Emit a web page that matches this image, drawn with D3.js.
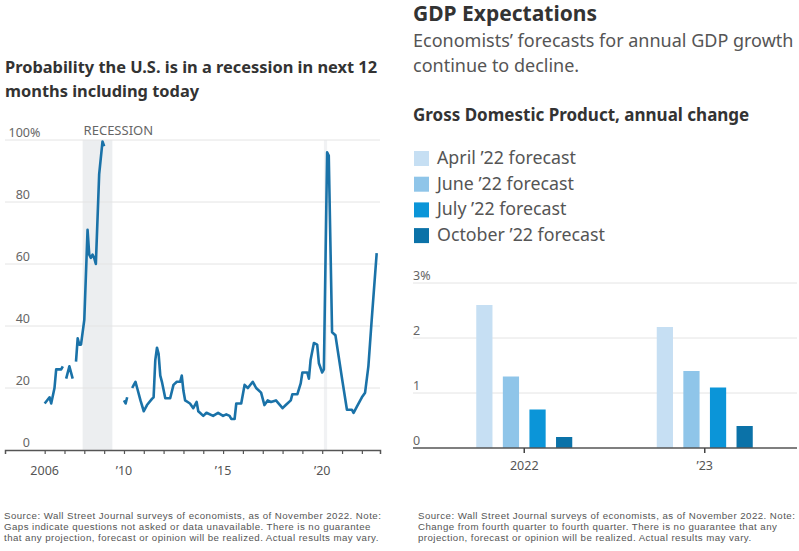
<!DOCTYPE html>
<html>
<head>
<meta charset="utf-8">
<script src="https://cdn.jsdelivr.net/npm/d3@7"></script>
<style>
  body { margin: 0; background: #fff; }
  svg text { font-family: "Noto Sans", sans-serif; }
  svg text.note { font-family: "Liberation Sans", sans-serif; letter-spacing: 0.45px; }
</style>
</head>
<body>
<div id="chart"></div>
<script>
// --- left panel: recession probability, monthly survey (null = gap) ---
var months = ["2006-01","2006-04","2006-05","2006-07","2006-08","2006-11","2006-12","2007-01",
  "2007-02","2007-04","2007-06","2007-07",
  "2007-08","2007-09","2007-10","2007-11","2008-01","2008-03","2008-04","2008-05","2008-06","2008-07",
  "2008-08","2008-10","2008-12","2009-01","2009-06",
  "2010-01","2010-02","2010-03","2010-04",
  "2010-06","2010-07","2010-08","2010-09","2010-11","2011-01","2011-03","2011-06","2011-07","2011-08",
  "2011-09","2011-10","2011-11","2011-12","2012-02","2012-05","2012-07","2012-09","2012-11","2012-12",
  "2013-01","2013-02","2013-05","2013-07","2013-09","2013-10","2013-11","2014-01","2014-03","2014-07",
  "2014-10","2015-01","2015-03","2015-05","2015-06","2015-08","2015-09","2015-12","2016-02","2016-04",
  "2016-07","2016-09","2016-12","2017-02","2017-04","2017-06","2017-09","2018-01","2018-03","2018-06",
  "2018-07","2018-10","2018-12","2019-01","2019-04","2019-05","2019-06","2019-08","2019-10","2019-11",
  "2020-01","2020-02","2020-04","2020-05","2020-07","2020-09","2020-11","2021-01","2021-04","2021-07",
  "2021-08","2021-10","2022-01","2022-03","2022-05","2022-07","2022-10"];
var probability = [15,17,15,20,26,26,27,null,
  23,27,23,null,
  28.5,36,34,34,42,71,63,62,63,62,
  60,89,99.5,98,null,
  16,15,17,null,
  20,21,22,20,16,12.5,14.5,16.5,17,29,
  33,31,24,22,16.7,16.7,21,22,22,24,
  19,16,15,13.5,15.5,12.5,12,11,12,11,
  12,11,11.5,11,10,10,15,15,21,20,
  22,20,18.5,14.5,16,15.5,16,13.5,14.5,16,
  18,18,21.5,25,25,23,29,34.5,34,28,
  25,26,96,95,38,37,30,23,13,13,
  12,14,17,18.5,27,42,63.5];
var recessions = [["2007-12","2009-06"],["2020-02","2020-04"]];
var probTicks = [0,20,40,60,80,100];
var yearTicks = d3.range(2006, 2023);
var yearLabels = {2006:"2006", 2010:"’10", 2015:"’15", 2020:"’20"};

// --- right panel: GDP forecasts ---
var gdpYears = ["2022","’23"];
var forecasts = ["April ’22 forecast","June ’22 forecast","July ’22 forecast","October ’22 forecast"];
var gdp2022 = [2.6, 1.3, 0.7, 0.2];
var gdp2023 = [2.2, 1.4, 1.1, 0.4];
var gdpTicks = [0,1,2,3];
var blues = ["#c6dff3","#8fc5e9","#0b95d8","#0b72a8"];

var parseMonth = d3.timeParse("%Y-%m");
var lineData = months.map(function(m,i){ return {date: parseMonth(m), v: probability[i]}; });
var gdpData = gdpYears.map(function(y,i){
  var vals = i==0 ? gdp2022 : gdp2023;
  return {year: y, values: forecasts.map(function(f,j){ return {key: f, v: vals[j]}; })};
});

var svg = d3.select("#chart").append("svg").attr("width", 799).attr("height", 551);

// footnotes: one line per text
function note(xPos, lines){
  svg.selectAll(null).data(lines).enter().append("text").attr("class","note")
    .attr("x",xPos).attr("y",(d,i)=>519+i*11)
    .style("font-size","9.7px").attr("fill","#555").text(d=>d);
}

// ================= left chart =================
var x = d3.scaleTime().domain([new Date(2004,0,1), new Date(2022,11,1)]).range([5, 380]);
var y = d3.scaleLinear().domain([0,100]).range([450, 140]);

svg.append("text").attr("x",5).attr("y",73).style("font-size","16.4px").style("font-weight","bold").attr("fill","#333")
  .text("Probability the U.S. is in a recession in next 12");
svg.append("text").attr("x",5).attr("y",97).style("font-size","16.4px").style("font-weight","bold").attr("fill","#333")
  .text("months including today");

svg.selectAll(".rec").data(recessions).enter().append("rect").attr("class","rec")
  .attr("x", d=>x(parseMonth(d[0])))
  .attr("width", d=>x(parseMonth(d[1]))-x(parseMonth(d[0])))
  .attr("y", 140).attr("height", 450-140)
  .attr("fill",(d,i)=>i==0 ? "#eceef0" : "#f1f2f4");

svg.append("text").attr("x", x(parseMonth(recessions[0][0]))+1).attr("y",135)
  .style("font-size","13px").attr("fill","#666").text("RECESSION");

svg.selectAll(".pgrid").data(probTicks.slice(1)).enter().append("line").attr("class","pgrid")
  .attr("x1",5).attr("x2",380).attr("y1",d=>y(d)).attr("y2",d=>y(d))
  .attr("stroke","#e4e4e4").attr("stroke-width",1);

svg.selectAll(".plab").data(probTicks).enter().append("text").attr("class","plab")
  .attr("x",30).attr("y",d=>y(d)-3).attr("text-anchor","end")
  .style("font-size","12.5px").attr("fill","#666").text(d=>d);
svg.append("text").attr("x",30).attr("y",y(100)-3).style("font-size","12.5px").attr("fill","#666").text("%");

var line = d3.line().defined(d=>d.v!=null).x(d=>x(d.date)).y(d=>y(d.v)).curve(d3.curveLinear);
svg.append("path").datum(lineData).attr("d", line)
  .attr("fill","none").attr("stroke","#1a72a8").attr("stroke-width",2.6).attr("stroke-linejoin","round");

var xAxis = d3.axisBottom(x).tickValues(yearTicks.map(yr=>new Date(yr,0,1))).tickSize(4).tickFormat("");
var gx = svg.append("g").attr("transform","translate(0,450)").call(xAxis);
gx.select(".domain").attr("stroke","#555").attr("stroke-width",1.5);
gx.selectAll(".tick line").attr("stroke","#555").attr("stroke-width",1.2);

svg.selectAll(".ylab").data(Object.keys(yearLabels)).enter().append("text").attr("class","ylab")
  .attr("x", d=>x(new Date(+d,0,1))).attr("y",475).attr("text-anchor","middle")
  .style("font-size","12.5px").attr("fill","#555").text(d=>yearLabels[d]);

note(4, ["Source: Wall Street Journal surveys of economists, as of November 2022. Note:",
  "Gaps indicate questions not asked or data unavailable. There is no guarantee",
  "that any projection, forecast or opinion will be realized. Actual results may vary."]);

// ================= right chart =================
var x0 = d3.scaleBand().domain(gdpYears).range([434, 795]);
var x1 = d3.scaleBand().domain(forecasts).range([-48, 48]).paddingInner(0.39);
var yg = d3.scaleLinear().domain([0,3]).range([448, 283]);

svg.append("text").attr("x",413).attr("y",21).style("font-size","21px").style("font-weight","bold").attr("fill","#333")
  .text("GDP Expectations");
svg.append("text").attr("x",413).attr("y",47).style("font-size","18px").attr("fill","#555")
  .text("Economists’ forecasts for annual GDP growth");
svg.append("text").attr("x",413).attr("y",72).style("font-size","18px").attr("fill","#555")
  .text("continue to decline.");
svg.append("text").attr("x",413).attr("y",121).style("font-size","17px").style("font-weight","bold").attr("fill","#333")
  .text("Gross Domestic Product, annual change");

var legend = svg.selectAll(".leg").data(forecasts).enter().append("g").attr("class","leg")
  .attr("transform",(d,i)=>"translate(414,"+(151+i*25.7)+")");
legend.append("rect").attr("width",15).attr("height",15).attr("fill",(d,i)=>blues[i]);
legend.append("text").attr("x",23).attr("y",13).style("font-size","17.8px").attr("fill","#555").text(d=>d);

svg.selectAll(".ggrid").data(gdpTicks.slice(1)).enter().append("line").attr("class","ggrid")
  .attr("x1",413).attr("x2",797).attr("y1",d=>yg(d)).attr("y2",d=>yg(d))
  .attr("stroke","#e4e4e4").attr("stroke-width",1);
svg.selectAll(".glab").data(gdpTicks).enter().append("text").attr("class","glab")
  .attr("x",413).attr("y",d=>yg(d)-3)
  .style("font-size","12.5px").attr("fill","#666").text(d=>d==3 ? d+"%" : d);

var groups = svg.selectAll(".grp").data(gdpData).enter().append("g").attr("class","grp")
  .attr("transform",d=>"translate("+(x0(d.year)+x0.bandwidth()/2)+",0)");
groups.selectAll("rect").data(d=>d.values).enter().append("rect")
  .attr("x",d=>x1(d.key)).attr("width",x1.bandwidth())
  .attr("y",d=>yg(d.v)).attr("height",d=>yg(0)-yg(d.v))
  .attr("fill",(d,i)=>blues[i]);

var gAxis = svg.append("g").attr("transform","translate(0,448)")
  .call(d3.axisBottom(x0).tickSize(5).tickSizeOuter(0).tickPadding(8));
gAxis.select(".domain").attr("d","M413,0H797").attr("stroke","#555").attr("stroke-width",1.5);
gAxis.selectAll(".tick line").attr("stroke","#444").attr("stroke-width",1.5);
gAxis.selectAll(".tick text").style("font-family","Noto Sans").style("font-size","12.5px").attr("fill","#555");

note(418, ["Source: Wall Street Journal surveys of economists, as of November 2022. Note:",
  "Change from fourth quarter to fourth quarter. There is no guarantee that any",
  "projection, forecast or opinion will be realized. Actual results may vary."]);
</script>
</body>
</html>
